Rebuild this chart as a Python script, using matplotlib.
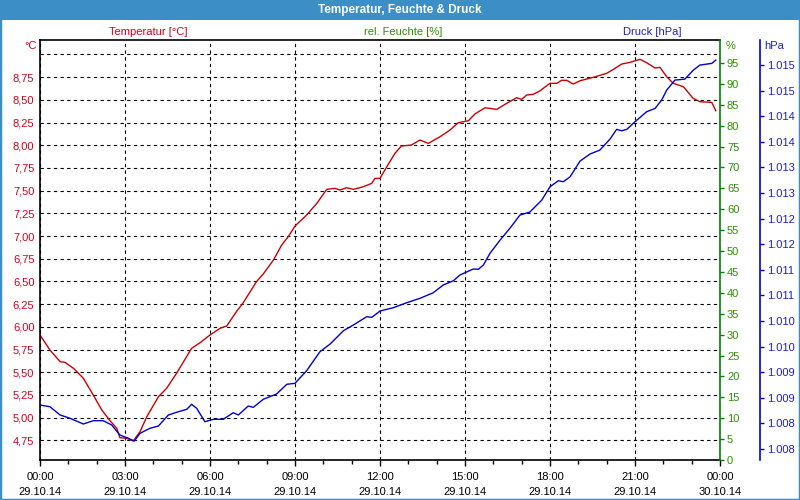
import matplotlib.pyplot as plt
from matplotlib.patches import Rectangle

# Zeit in Stunden ab 29.10.14 00:00
temp_h = [0, 0.35, 0.71, 0.88, 1.18, 1.53, 1.88, 2.18, 2.47, 2.71, 2.82, 3.06, 3.29, 3.53,
          3.77, 4.18, 4.47, 4.82, 5.35, 5.65, 6.0, 6.35, 6.59, 6.93, 7.16, 7.64, 7.88, 8.24,
          8.53, 8.76, 9.0, 9.41, 9.77, 10.12, 10.41, 10.59, 10.82, 11.06, 11.41, 11.71, 11.82,
          12.0, 12.24, 12.53, 12.75, 13.11, 13.41, 13.71, 14.12, 14.47, 14.76, 15.12, 15.35,
          15.71, 16.12, 16.47, 16.82, 17.0, 17.18, 17.41, 17.65, 18.0, 18.24, 18.41, 18.59,
          18.82, 19.06, 19.53, 20.0, 20.24, 20.53, 20.82, 21.18, 21.41, 21.71, 21.88, 22.12,
          22.35, 22.71, 23.05, 23.29, 23.71, 23.85]
temp_c = [5.91, 5.745, 5.616, 5.609, 5.543, 5.433, 5.249, 5.084, 4.966, 4.882, 4.779, 4.772,
          4.742, 4.845, 5.010, 5.230, 5.323, 5.488, 5.763, 5.825, 5.910, 5.983, 6.009, 6.166,
          6.259, 6.497, 6.582, 6.736, 6.901, 6.992, 7.110, 7.231, 7.360, 7.514, 7.525, 7.507,
          7.532, 7.514, 7.543, 7.580, 7.635, 7.635, 7.763, 7.911, 7.991, 8.002, 8.057, 8.021,
          8.094, 8.167, 8.248, 8.270, 8.344, 8.413, 8.395, 8.461, 8.523, 8.506, 8.553, 8.561,
          8.600, 8.682, 8.682, 8.715, 8.715, 8.674, 8.710, 8.748, 8.792, 8.836, 8.894, 8.913,
          8.946, 8.909, 8.850, 8.858, 8.754, 8.682, 8.644, 8.517, 8.479, 8.472, 8.380]

druck_h = [0, 0.35, 0.71, 1.06, 1.53, 1.88, 2.23, 2.53, 2.82, 3.12, 3.33, 3.53, 3.88, 4.18,
           4.53, 4.82, 5.18, 5.35, 5.53, 5.82, 6.12, 6.47, 6.82, 7.0, 7.35, 7.53, 7.88, 8.35,
           8.71, 9.0, 9.41, 9.88, 10.24, 10.71, 11.06, 11.53, 11.71, 12.0, 12.47, 12.94, 13.41,
           13.88, 14.23, 14.59, 14.82, 15.29, 15.47, 15.65, 15.88, 16.24, 16.59, 16.94, 17.29,
           17.71, 18.0, 18.29, 18.47, 18.71, 19.06, 19.41, 19.76, 20.12, 20.35, 20.53, 20.71,
           21.0, 21.41, 21.71, 21.94, 22.12, 22.41, 22.76, 23.06, 23.29, 23.71, 23.85]
druck_hpa = [1008.459, 1008.426, 1008.264, 1008.200, 1008.088, 1008.153, 1008.153, 1008.069,
             1007.873, 1007.809, 1007.756, 1007.907, 1008.004, 1008.049, 1008.264, 1008.317,
             1008.375, 1008.473, 1008.395, 1008.133, 1008.180, 1008.180, 1008.309, 1008.264,
             1008.440, 1008.414, 1008.571, 1008.674, 1008.864, 1008.883, 1009.129, 1009.500,
             1009.651, 1009.911, 1010.022, 1010.184, 1010.172, 1010.295, 1010.360, 1010.457,
             1010.543, 1010.653, 1010.803, 1010.887, 1010.998, 1011.116, 1011.110, 1011.194,
             1011.422, 1011.682, 1011.916, 1012.170, 1012.229, 1012.463, 1012.723, 1012.840,
             1012.821, 1012.918, 1013.225, 1013.362, 1013.440, 1013.655, 1013.844, 1013.817,
             1013.844, 1013.993, 1014.188, 1014.254, 1014.416, 1014.612, 1014.807, 1014.826,
             1015.002, 1015.100, 1015.133, 1015.197]

x_ticks = [0, 3, 6, 9, 12, 15, 18, 21, 24]
x_labels = ['00:00\n29.10.14', '03:00\n29.10.14', '06:00\n29.10.14', '09:00\n29.10.14',
            '12:00\n29.10.14', '15:00\n29.10.14', '18:00\n29.10.14', '21:00\n29.10.14',
            '00:00\n30.10.14']
t_ticks = [4.75, 5.0, 5.25, 5.5, 5.75, 6.0, 6.25, 6.5, 6.75, 7.0, 7.25, 7.5, 7.75, 8.0,
           8.25, 8.5, 8.75, 9.0]
t_labels = ['4,75', '5,00', '5,25', '5,50', '5,75', '6,00', '6,25', '6,50', '6,75', '7,00',
            '7,25', '7,50', '7,75', '8,00', '8,25', '8,50', '8,75', '']
f_ticks = [0, 5, 10, 15, 20, 25, 30, 35, 40, 45, 50, 55, 60, 65, 70, 75, 80, 85, 90, 95]
d_ticks = [1007.6, 1008.1, 1008.6, 1009.1, 1009.6, 1010.1, 1010.6, 1011.1, 1011.6, 1012.1,
           1012.6, 1013.1, 1013.6, 1014.1, 1014.6, 1015.1]
d_labels = ['1.008', '1.008', '1.009', '1.009', '1.010', '1.010', '1.011', '1.011', '1.012',
            '1.012', '1.013', '1.013', '1.014', '1.014', '1.015', '1.015']

rot = '#cc0000'
rot_txt = '#d4001c'
gruen = '#008000'
gruen_txt = '#2f8f00'
blau = '#0000d0'
blau_txt = '#2020c0'
rahmen = '#3c8fc6'
fs = 8

plt.rcParams['font.family'] = ['Liberation Sans', 'DejaVu Sans']

fig = plt.figure(figsize=(8, 5), dpi=100)
fig.patch.set_facecolor('white')

def px(x, y):
    return x / 800, 1 - y / 500

# Titelleiste und Rahmen
fig.add_artist(Rectangle(px(0, 20), 1, 20 / 500, transform=fig.transFigure,
                         facecolor=rahmen, edgecolor='none'))
fig.add_artist(Rectangle((0, 0), 1, 1, transform=fig.transFigure, fill=False,
                         edgecolor=rahmen, lw=2.5))
fig.text(*px(400, 10), 'Temperatur, Feuchte & Druck', color='white', weight='bold',
         ha='center', va='center', fontsize=8.5)

ax = fig.add_axes([40 / 800, 40 / 500, 680 / 800, 420 / 500])
ax.plot(temp_h, temp_c, color=rot, lw=1)
ax.set_xlim(0, 24)
ax.set_ylim(4.533, 9.159)
ax.set_xticks(x_ticks)
ax.set_xticklabels(x_labels, fontsize=fs, linespacing=1.6)
ax.set_xticks(range(25), minor=True)
ax.set_yticks(t_ticks)
ax.set_yticklabels(t_labels, fontsize=fs, color=rot_txt)
ax.tick_params(axis='y', length=0, pad=4)
ax.tick_params(axis='x', which='major', length=4, width=1, pad=5)
ax.tick_params(axis='x', which='minor', length=3, width=1)
ax.grid(True, color='black', lw=0.8, linestyle=(0, (3, 3)))
for s in ['left', 'top', 'bottom']:
    ax.spines[s].set_linewidth(1.2)
ax.spines['right'].set_visible(False)

# Feuchte-Achse (keine Daten)
ax2 = ax.twinx()
ax2.set_ylim(0, 100.5)
ax2.set_yticks(f_ticks)
ax2.set_yticklabels([str(v) for v in f_ticks], fontsize=fs, color=gruen_txt)
ax2.tick_params(axis='y', length=3, width=1, color=gruen, pad=2)
for s in ['left', 'top', 'bottom']:
    ax2.spines[s].set_visible(False)
ax2.spines['right'].set_color(gruen)
ax2.spines['right'].set_linewidth(1.2)

# Druck-Achse, 40 px rechts von der Feuchte-Achse
ax3 = ax.twinx()
ax3.spines['right'].set_position(('outward', 40 * 72 / 100))
ax3.plot(druck_h, druck_hpa, color=blau, lw=1)
ax3.set_ylim(1007.385, 1015.59)
ax3.set_yticks(d_ticks)
ax3.set_yticklabels(d_labels, fontsize=fs, color=blau_txt)
ax3.tick_params(axis='y', length=3, width=1, color=blau, pad=2)
for s in ['left', 'top', 'bottom']:
    ax3.spines[s].set_visible(False)
ax3.spines['right'].set_color(blau)
ax3.spines['right'].set_linewidth(1.2)

# Achsenbeschriftungen
fig.text(*px(148, 32), 'Temperatur [°C]', color=rot_txt, ha='center', va='center', fontsize=fs)
fig.text(*px(403, 32), 'rel. Feuchte [%]', color=gruen_txt, ha='center', va='center', fontsize=fs)
fig.text(*px(652, 32), 'Druck [hPa]', color=blau_txt, ha='center', va='center', fontsize=fs)
fig.text(*px(37, 46), '°C', color=rot_txt, ha='right', va='center', fontsize=fs)
fig.text(*px(726, 46), '%', color=gruen_txt, ha='left', va='center', fontsize=fs)
fig.text(*px(764, 46), 'hPa', color=blau_txt, ha='left', va='center', fontsize=fs)

fig.savefig('out.png', dpi=100, facecolor='white')
